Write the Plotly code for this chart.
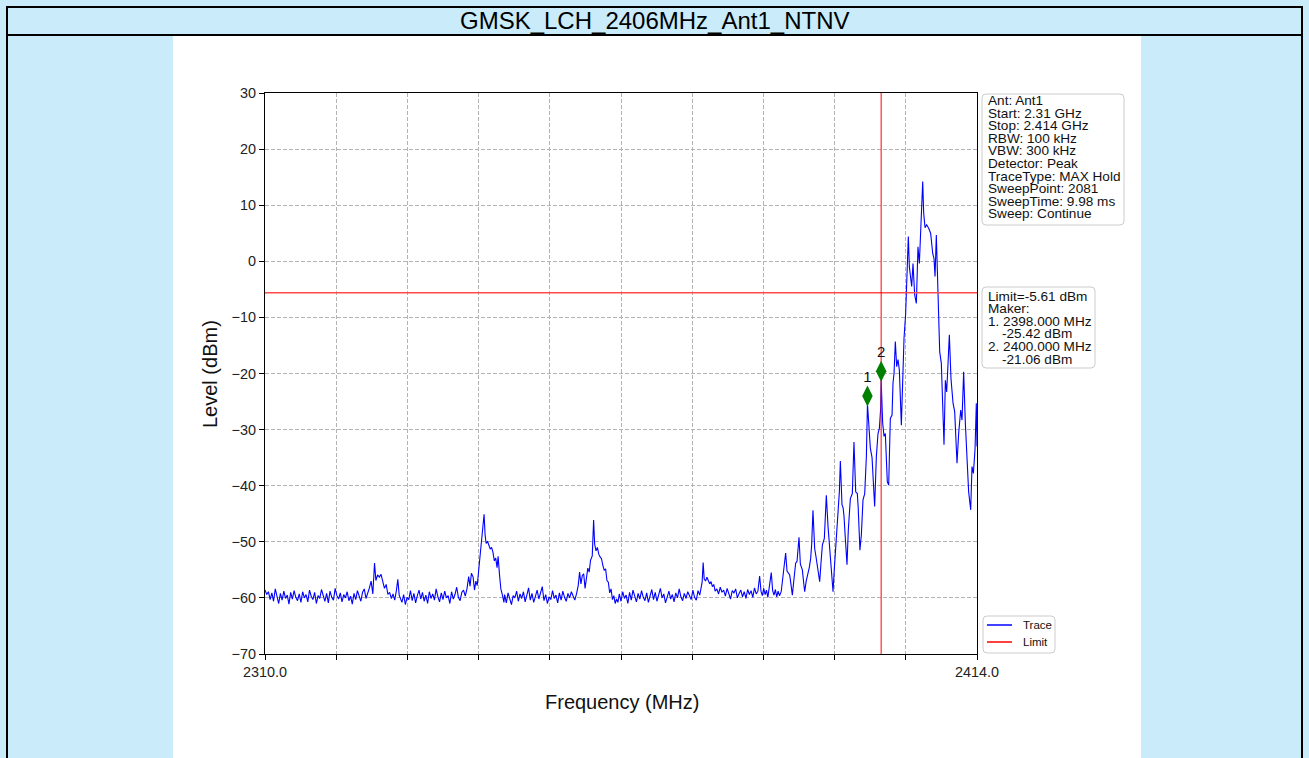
import numpy as np
import plotly.graph_objects as go

# ---------------- data ----------------
title_text = "GMSK_LCH_2406MHz_Ant1_NTNV"
x_start, x_stop = 2310.0, 2414.0
y_min, y_max = -70, 30
y_ticks = list(range(-70, 31, 10))
x_tick_count = 11
limit_dbm = -5.61
marker_freqs = [2398.0, 2400.0]
marker_levels = [-25.42, -21.06]
marker_draw_levels = [-24.0, -19.6]   # where the diamonds sit in the picture
marker_labels = ["1", "2"]

info_lines = ["Ant: Ant1", "Start: 2.31 GHz", "Stop: 2.414 GHz", "RBW: 100 kHz",
              "VBW: 300 kHz", "Detector: Peak", "TraceType: MAX Hold",
              "SweepPoint: 2081", "SweepTime: 9.98 ms", "Sweep: Continue"]

sweep_step = 0.25
floor_starts = [2310.0, 2330.0, 2345.0, 2361.75, 2376.0]

floor_1 = [-58.6, -59.4, -58.9, -60.3, -59.1, -60.6, -58.4, -59.8, -61.0, -59.2,
           -60.4, -58.8, -60.1, -59.5, -61.1, -59.0, -60.2, -58.7, -59.9, -60.5,
           -59.3, -60.8, -58.9, -60.0, -59.4, -60.7, -58.6, -59.7, -60.3, -59.0,
           -61.0, -59.6, -60.1, -58.5, -59.8, -60.6, -59.2, -60.9, -58.8, -59.9,
           -60.4, -58.3, -59.6, -60.2, -59.1, -60.7, -59.4, -60.0, -58.9, -60.5,
           -59.7, -61.1, -59.2, -60.3, -58.7, -59.8, -60.6, -59.0, -58.4, -60.1,
           -59.3]
bump_1_freq = [2325.25, 2325.5, 2325.75, 2326.0, 2326.2, 2326.45, 2326.7, 2326.95, 2327.2, 2327.45,
               2327.7, 2327.95, 2328.2, 2328.45, 2328.7, 2328.95, 2329.2, 2329.4, 2329.6, 2329.8]
bump_1_level = [-58.2, -57.0, -59.3, -53.8, -56.9, -55.9, -56.3, -55.8, -57.4, -58.3,
                -57.6, -59.4, -59.0, -60.1, -59.3, -60.4, -58.6, -56.7, -59.5, -60.2]
floor_2 = [-60.8, -59.4, -61.2, -59.9, -60.3, -58.7, -60.5, -59.2, -60.9, -59.6,
           -58.6, -60.2, -59.0, -60.6, -59.5, -61.0, -58.9, -60.1, -59.3, -60.4,
           -58.4, -59.8, -60.7, -59.1, -60.3, -58.8, -60.0, -59.6, -61.0, -58.9,
           -60.2, -59.4, -58.1, -59.9, -60.5, -59.0, -58.6, -59.7, -58.4]
peak_1_freq = [2339.75, 2339.95, 2340.15, 2340.4, 2340.6, 2340.8, 2341.0, 2341.2, 2341.4, 2341.6,
               2341.8, 2342.0, 2342.15, 2342.3, 2342.5, 2342.7, 2342.9, 2343.1, 2343.3, 2343.5,
               2343.7, 2343.9, 2344.05, 2344.25, 2344.45, 2344.7, 2344.9]
peak_1_level = [-56.2, -57.9, -55.6, -56.3, -58.6, -57.0, -57.8, -55.0, -53.0, -49.4,
                -47.5, -45.1, -48.8, -50.3, -49.9, -50.6, -51.3, -51.0, -51.9, -53.4,
                -52.9, -54.6, -52.6, -55.8, -58.4, -59.6, -60.8]
floor_3 = [-59.4, -60.9, -59.1, -60.3, -61.2, -59.6, -60.0, -58.8, -60.6, -59.3,
           -60.1, -58.9, -60.7, -59.5, -58.2, -60.4, -59.2, -60.8, -59.7, -58.6,
           -60.2, -59.0, -58.0, -60.5, -59.4, -61.0, -59.8, -60.3, -58.7, -60.1,
           -59.5, -60.9, -59.1, -60.4, -58.8, -59.9, -60.6, -59.2, -60.0, -58.9,
           -59.7, -60.4, -59.3]
peak_2_freq = [2355.75, 2355.95, 2356.15, 2356.35, 2356.55, 2356.75, 2356.95, 2357.15, 2357.35, 2357.55,
               2357.8, 2358.0, 2358.15, 2358.35, 2358.55, 2358.75, 2358.95, 2359.15, 2359.35, 2359.55,
               2359.75, 2359.95, 2360.15, 2360.35, 2360.55, 2360.75, 2360.95, 2361.15, 2361.35, 2361.55]
peak_2_level = [-57.8, -55.4, -57.5, -56.0, -55.7, -58.3, -56.6, -54.7, -55.4, -53.3,
                -52.5, -46.1, -50.4, -51.6, -51.0, -52.2, -52.7, -53.0, -54.2, -55.1,
                -54.8, -56.9, -57.2, -59.1, -58.4, -60.3, -59.6, -61.0, -60.2, -60.8]
floor_4 = [-59.3, -60.6, -58.9, -60.1, -59.5, -61.0, -59.0, -60.4, -58.6, -59.8,
           -60.7, -59.2, -60.2, -58.7, -59.9, -60.5, -59.1, -60.8, -59.4, -58.5,
           -60.3, -59.0, -60.6, -59.6, -58.3, -60.0, -59.3, -60.9, -59.7, -58.8,
           -60.2, -59.4, -60.7, -59.1, -60.0, -58.4, -59.8, -60.5, -59.2, -60.1,
           -58.9, -59.6, -60.3, -58.6, -59.9, -60.4, -58.7, -59.5]
bump_3_freq = [2373.7, 2373.85, 2374.0, 2374.15, 2374.35, 2374.55, 2374.75, 2374.95, 2375.15, 2375.35,
               2375.55, 2375.75]
bump_3_level = [-58.4, -57.2, -53.7, -56.6, -57.0, -56.3, -56.9, -57.5, -57.1, -58.0,
                -57.6, -58.8]
floor_5 = [-58.4, -59.3, -58.1, -59.0, -58.6, -59.7, -58.3, -59.5, -60.2, -58.7,
           -59.1, -58.4, -60.0, -59.2, -58.6, -59.8, -58.9, -60.1, -58.5, -59.4,
           -58.7, -59.9, -58.2, -59.3, -58.8]
skirt_freq = [2382.25, 2382.45, 2382.65, 2382.85, 2383.05, 2383.25, 2383.45, 2383.65, 2383.95, 2384.15,
              2384.35, 2384.55, 2384.75, 2384.95, 2385.15, 2385.4, 2385.66, 2386.05, 2386.25, 2386.45,
              2386.64, 2386.85, 2387.03, 2387.25, 2387.51, 2387.71, 2388.0, 2388.2, 2388.49, 2388.65,
              2388.83, 2389.05, 2389.31, 2389.5, 2389.7, 2389.85, 2390.04, 2390.29, 2390.45, 2390.63,
              2390.8, 2391.02, 2391.2, 2391.41, 2391.7, 2391.85, 2391.99, 2392.24, 2392.4, 2392.58,
              2392.8, 2392.97, 2393.15, 2393.36, 2393.5, 2393.7, 2393.9, 2394.04, 2394.28, 2394.45,
              2394.57, 2394.8, 2395.01, 2395.2, 2395.35, 2395.5, 2395.79, 2395.9, 2396.03, 2396.28,
              2396.52, 2396.65, 2396.9, 2397.11, 2397.35, 2397.6, 2397.84, 2398.0, 2398.23, 2398.42,
              2398.67, 2398.86, 2399.05, 2399.3, 2399.54, 2399.74, 2399.93, 2400.0, 2400.22, 2400.42,
              2400.61, 2400.9, 2401.1, 2401.34, 2401.59, 2401.73, 2401.88, 2402.07, 2402.27, 2402.46,
              2402.66, 2402.95, 2403.14, 2403.34, 2403.58, 2403.78, 2403.97, 2404.12, 2404.26, 2404.46,
              2404.65, 2404.9, 2405.14, 2405.38, 2405.58, 2405.77, 2405.92, 2406.07, 2406.21, 2406.41,
              2406.65, 2406.94, 2407.23, 2407.53, 2407.72, 2407.87, 2408.06, 2408.31, 2408.55, 2408.79,
              2409.04, 2409.18, 2409.38, 2409.57, 2409.77, 2409.96, 2410.2, 2410.5, 2410.74, 2411.08,
              2411.32, 2411.62, 2411.81, 2412.05, 2412.3, 2412.54, 2412.78, 2413.08, 2413.27, 2413.47,
              2413.71, 2413.9, 2414.0]
skirt_level = [-56.1, -58.8, -59.6, -58.3, -59.4, -58.6, -59.9, -58.4, -55.5, -58.7,
               -59.5, -58.5, -59.8, -58.8, -59.6, -58.9, -56.5, -52.0, -55.2, -55.7,
               -55.9, -57.8, -59.5, -56.8, -53.8, -53.5, -49.2, -54.0, -55.0, -56.9,
               -58.9, -57.0, -55.8, -54.6, -53.0, -50.5, -44.4, -51.2, -52.4, -53.8,
               -55.6, -57.1, -54.0, -50.6, -49.4, -46.5, -41.7, -47.3, -50.0, -53.0,
               -56.5, -58.9, -55.0, -50.6, -49.0, -44.9, -41.0, -35.6, -43.4, -44.0,
               -45.4, -50.0, -54.1, -48.0, -44.0, -42.3, -41.4, -37.5, -32.2, -41.1,
               -41.4, -44.0, -51.5, -48.7, -42.5, -41.4, -34.8, -25.4, -29.0, -33.3,
               -35.0, -39.0, -43.7, -34.8, -30.7, -29.8, -26.2, -21.1, -28.8, -31.2,
               -30.7, -39.3, -39.9, -28.0, -27.4, -21.7, -20.0, -14.3, -18.8, -17.5,
               -19.4, -29.2, -19.4, -13.7, -9.3, -3.3, 4.4, -1.0, -2.2, -4.5,
               -0.4, -6.0, -7.5, 2.6, -0.4, 5.6, 9.1, 14.2, 8.6, 6.0,
               6.5, 5.9, 5.0, 1.4, 0.5, -2.7, 4.7, -6.3, -16.1, -18.2,
               -26.5, -32.7, -21.2, -23.3, -18.2, -13.1, -20.9, -25.3, -26.8, -36.0,
               -30.7, -26.5, -28.3, -19.7, -28.9, -34.8, -41.1, -44.3, -36.6, -37.8,
               -33.6, -25.3, -33.0]
assert len(skirt_freq) == len(skirt_level)


def floor_freq(start, levels):
    return list(start + sweep_step * np.arange(len(levels)))


trace_freq = (floor_freq(floor_starts[0], floor_1) + bump_1_freq +
              floor_freq(floor_starts[1], floor_2) + peak_1_freq +
              floor_freq(floor_starts[2], floor_3) + peak_2_freq +
              floor_freq(floor_starts[3], floor_4) + bump_3_freq +
              floor_freq(floor_starts[4], floor_5) + skirt_freq)
trace_level = (floor_1 + bump_1_level + floor_2 + peak_1_level + floor_3 + peak_2_level +
               floor_4 + bump_3_level + floor_5 + skirt_level)

# ---------------- layout helpers (pixel -> paper) ----------------
W, H = 1309, 758
L, R, T, B = 265, 977, 93, 654
BG = "#c9ebfa"


def px(x):
    return (x - L) / (R - L)


def py(y):
    return (B - y) / (B - T)


def rrect(x0, y0, x1, y1, r=4):
    pts = (f"M{px(x0 + r)},{py(y0)} L{px(x1 - r)},{py(y0)} Q{px(x1)},{py(y0)} {px(x1)},{py(y0 + r)} "
           f"L{px(x1)},{py(y1 - r)} Q{px(x1)},{py(y1)} {px(x1 - r)},{py(y1)} "
           f"L{px(x0 + r)},{py(y1)} Q{px(x0)},{py(y1)} {px(x0)},{py(y1 - r)} "
           f"L{px(x0)},{py(y0 + r)} Q{px(x0)},{py(y0)} {px(x0 + r)},{py(y0)} Z")
    return pts


FONT = "Liberation Sans, Arial, sans-serif"

fig = go.Figure()
fig.add_trace(go.Scatter(x=trace_freq, y=trace_level, mode="lines",
                         line=dict(color="#0000ff", width=1.1), hoverinfo="skip"))
fig.add_trace(go.Scatter(x=[x_start, x_stop], y=[limit_dbm, limit_dbm], mode="lines",
                         line=dict(color="#ff4a4a", width=1.6), hoverinfo="skip"))
fig.add_trace(go.Scatter(x=[marker_freqs[1], marker_freqs[1]], y=[y_min, y_max], mode="lines",
                         line=dict(color="#ff0000", width=1), hoverinfo="skip"))
fig.add_trace(go.Scatter(x=marker_freqs, y=marker_draw_levels, mode="markers+text",
                         marker=dict(symbol="diamond-tall", size=15, color="#008000"),
                         text=marker_labels, textposition="top center",
                         textfont=dict(family=FONT, size=15, color="#111"),
                         cliponaxis=False, hoverinfo="skip"))

shapes = []
# white central panel
shapes.append(dict(type="rect", xref="paper", yref="paper", x0=px(173), x1=px(1141),
                   y0=py(36), y1=py(758), fillcolor="white", line=dict(width=0), layer="below"))
# title bar frame
shapes.append(dict(type="rect", xref="paper", yref="paper", x0=px(7), x1=px(1302),
                   y0=py(7), y1=py(35), line=dict(color="black", width=2)))
for xx in (7, 1302):
    shapes.append(dict(type="line", xref="paper", yref="paper", x0=px(xx), x1=px(xx),
                       y0=py(35), y1=py(760), line=dict(color="black", width=2)))
# info boxes and legend box
for (a, b, c, d) in [(982, 94, 1124, 225), (982, 287, 1095, 368), (983, 616, 1055, 653)]:
    shapes.append(dict(type="path", xref="paper", yref="paper", path=rrect(a, b, c, d),
                       line=dict(color="#cccccc", width=1), fillcolor="white"))
# legend lines
shapes.append(dict(type="line", xref="paper", yref="paper", x0=px(987), x1=px(1012),
                   y0=py(625), y1=py(625), line=dict(color="#0000ff", width=1.5)))
shapes.append(dict(type="line", xref="paper", yref="paper", x0=px(987), x1=px(1012),
                   y0=py(642), y1=py(642), line=dict(color="#ff0000", width=1.5)))

annotations = []


def text(x, y, s, size, anchor="left", angle=0, color="#111"):
    annotations.append(dict(xref="paper", yref="paper", x=px(x), y=py(y), text=s,
                            showarrow=False, xanchor=anchor, yanchor="middle", textangle=angle,
                            font=dict(family=FONT, size=size, color=color)))


text(655, 21, title_text, 24, anchor="center", color="black")
text(621.5, 702, "Frequency (MHz)", 20, anchor="center")
text(210, 374, "Level (dBm)", 20, anchor="center", angle=-90)

for i, s in enumerate(info_lines):
    text(986, 100.5 + 12.6 * i, s, 13.6)

box2 = [(986, f"Limit={limit_dbm:.2f} dBm"), (986, "Maker:")]
for i, (f, lv) in enumerate(zip(marker_freqs, marker_levels)):
    box2.append((986, f"{i + 1}. {f:.3f} MHz"))
    box2.append((1000, f"{lv:.2f} dBm"))
for i, (xx, s) in enumerate(box2):
    text(xx, 296 + 12.6 * i, s, 13.6)

text(1021, 625, "Trace", 11.5)
text(1021, 642, "Limit", 11.5)

x_tickvals = [x_start + (x_stop - x_start) * k / (x_tick_count - 1) for k in range(x_tick_count)]
x_ticktext = [f"{v:.1f}" if k in (0, x_tick_count - 1) else "" for k, v in enumerate(x_tickvals)]

axis_common = dict(showline=True, mirror=True, linecolor="black", linewidth=1.3,
                   ticks="outside", ticklen=5, tickwidth=1.2, tickcolor="black",
                   showgrid=True, gridcolor="#b3b3b3", gridwidth=0.8, griddash="4px,2px",
                   zeroline=False, tickfont=dict(family=FONT, size=14.4, color="#222"))

fig.update_layout(
    width=W, height=H, autosize=False,
    margin=dict(l=L, r=W - R, t=T, b=H - B, pad=0),
    paper_bgcolor=BG, plot_bgcolor="white",
    showlegend=False,
    xaxis=dict(range=[x_start, x_stop], tickvals=x_tickvals, ticktext=x_ticktext, **axis_common),
    yaxis=dict(range=[y_min, y_max], tickvals=y_ticks, **axis_common),
    shapes=shapes, annotations=annotations,
)

fig.write_html(
    "out.html",
    config={"displayModeBar": False},
    post_script=("document.body.style.margin='0';document.body.style.overflow='hidden';"
                 f"document.body.style.background='{BG}';"),
)
